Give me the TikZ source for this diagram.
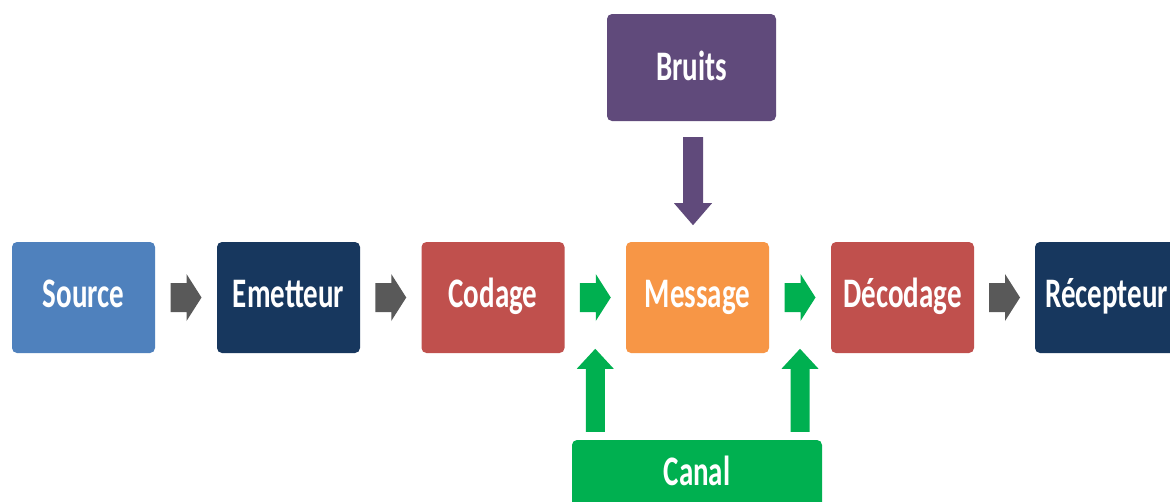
\documentclass[tikz,border=0pt]{standalone}
\usepackage{fontspec}
\setmainfont{Carlito}
\usetikzlibrary{calc}
\definecolor{csource}{HTML}{4F81BD}
\definecolor{cnavy}{HTML}{17375E}
\definecolor{cred}{HTML}{C0504D}
\definecolor{corange}{HTML}{F79646}
\definecolor{cpurple}{HTML}{604A7B}
\definecolor{cgreen}{HTML}{00B050}
\definecolor{cgray}{HTML}{595959}
\newcommand{\boxtext}[1]{\scalebox{1}[1.45]{#1}}
\begin{document}
\begin{tikzpicture}[x=1pt,y=-1pt,
  box/.style={rounded corners=5pt, minimum width=143pt, minimum height=111pt,
    inner sep=0pt, text=white, font=\fontsize{29}{31}\selectfont\bfseries,
    text height=27pt, text depth=8pt},
  topbox/.style={box, minimum width=169pt, minimum height=107pt, text depth=2pt},
  txt/.style={text=white, font=\fontsize{29}{31}\selectfont\bfseries, inner sep=0pt}]
\useasboundingbox (0,0) rectangle (1170,501);
\clip (0,0) rectangle (1170,501);
\fill[white] (0,0) rectangle (1170,501);

% main row
\node[box, fill=csource] (source)   at (83.5,297.5)  {\boxtext{Source}};
\node[box, fill=cnavy]   (emetteur) at (288.5,297.5) {\boxtext{Emetteur}};
\node[box, fill=cred]    (codage)   at (493,297.5)   {\boxtext{Codage}};
\node[box, fill=corange] (message)  at (697.5,297.5) {\boxtext{Message}};
\node[box, fill=cred]    (decodage) at (902.5,297.5) {\boxtext{Décodage}};
\node[box, fill=cnavy]   (recepteur)at (1106.5,297.5){\boxtext{Récepteur}};

% top and bottom
\node[topbox, fill=cpurple] (bruits) at (691.5,67.5) {\boxtext{Bruits}};
\node[rounded corners=5pt, fill=cgreen, minimum width=250pt, minimum height=100pt, inner sep=0pt]
  (canal) at (697,490) {};
\node[txt, anchor=base] (canaltxt) at (697,485) {\boxtext{Canal}};

% horizontal block arrows
\newcommand{\harrow}[3]{%
  \fill[#3] ($(#1.east)!0.5!(#2.west)$) ++(-15.5,-14.5) -- ++(16,0) -- ++(0,-9)
     -- ++(15,23.5) -- ++(-15,23.5) -- ++(0,-9) -- ++(-16,0) -- cycle;}
\harrow{source}{emetteur}{cgray}
\harrow{emetteur}{codage}{cgray}
\harrow{codage}{message}{cgreen}
\harrow{message}{decodage}{cgreen}
\harrow{decodage}{recepteur}{cgray}

% vertical up arrows from canal
\newcommand{\uparrowblock}[3]{%
  \coordinate (#3mid) at ($(#1.east)!0.5!(#2.west)$);
  \coordinate (#3) at (#3mid |- canal.north);
  \fill[cgreen] (#3) ++(-9.5,-8) -- ++(0,-63)
     -- ++(-9,0) -- ++(18.5,-20) -- ++(18.5,20) -- ++(-9,0) -- ++(0,63) -- cycle;}
\uparrowblock{codage}{message}{upa}
\uparrowblock{message}{decodage}{upb}

% down arrow from bruits
\fill[cpurple] ([xshift=1.5pt]bruits.south) ++(-10,16) -- ++(20,0) -- ++(0,66)
   -- ++(9,0) -- ++(-19,22) -- ++(-19,-22) -- ++(9,0) -- cycle;
\end{tikzpicture}
\end{document}
